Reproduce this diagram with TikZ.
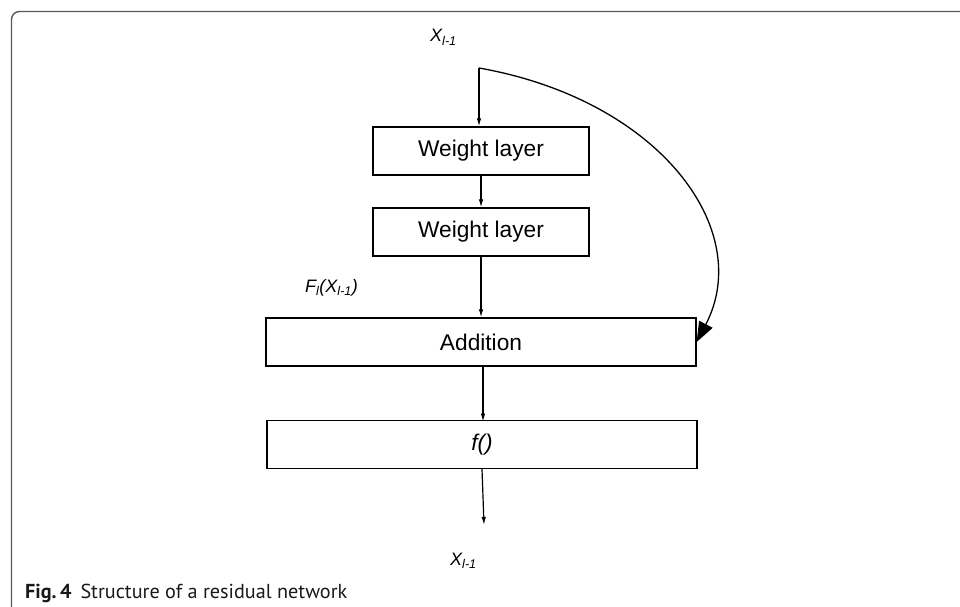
\documentclass[tikz,border=0pt]{standalone}
\usepackage{fontspec}
\setmainfont{Liberation Sans}
\newfontfamily\capfont{PT Sans}
\usetikzlibrary{arrows.meta, positioning}

\begin{document}
\begin{tikzpicture}[x=1bp, y=-1bp,
    layer/.style={draw, line width=1.3bp, inner sep=0pt, minimum height=48bp,
                  font=\fontsize{22.7bp}{27bp}\selectfont},
    lbl/.style={inner sep=0pt, anchor=base west, font=\fontsize{18bp}{21bp}\selectfont\itshape},
    flow/.style={line width=1.2bp, -{Latex[length=8bp,width=4.5bp]}}]
    \useasboundingbox (0,0) rectangle (960,607);
    % frame of the figure
    \draw[black!65, line width=1.4bp, rounded corners=8bp] (11.5,607) -- (11.5,11.5) -- (960,11.5);
    % blocks
    \node[layer, minimum width=216bp] (w1) at (481,151) {Weight layer};
    \node[layer, minimum width=216bp] (w2) at (481,232) {Weight layer};
    \node[layer, minimum width=430bp] (add) at (481,342) {Addition};
    \node[layer, minimum width=430bp] (act) at (482,444.5) {\itshape f()};
    % labels
    \node[lbl] (xin) at (430,42) {X\textsubscript{l-1}};
    \node[lbl] (fx) at (305,292) {F\textsubscript{l}(X\textsubscript{l-1})};
    \node[lbl] (xout) at (450,565) {X\textsubscript{l-1}};
    \coordinate (split) at (479,68);
    \coordinate (out) at (484,525);
    % main path
    \draw[flow] (split) -- (split |- w1.north);
    \draw[flow] (w1) -- (w2);
    \draw[flow] (w2.south) -- (w2.south |- add.north);
    \draw[flow] (add.south) ++(2,0) -- ++(0,55);
    \draw[flow] (act.south) -- (out);
    % identity shortcut
    \draw[line width=1.3bp, -{Triangle[length=20bp,width=15bp]}]
        (split) .. controls (660,100) and (755,230) .. (add.east);
    % caption
    \node[anchor=base west, inner sep=0pt, text=black!90,
          font=\capfont\fontsize{20.2bp}{24bp}\selectfont] (cap) at (25,598)
          {\textbf{Fig.\,4}\hspace{9bp}Structure of a residual network};
\end{tikzpicture}
\end{document}
